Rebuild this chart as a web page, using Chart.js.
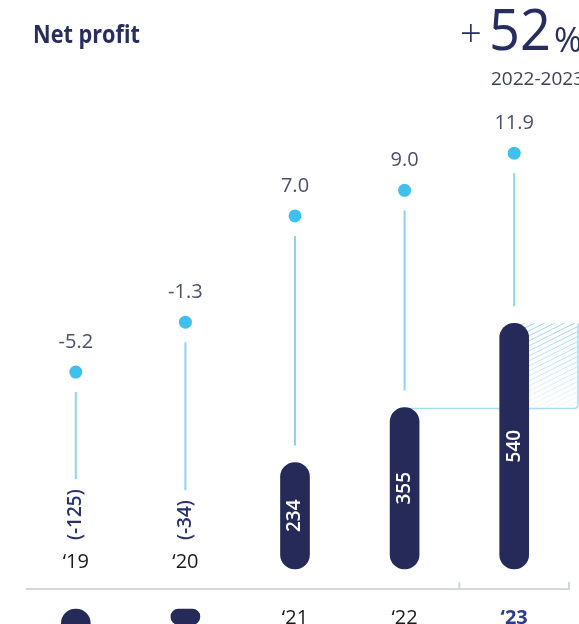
<!DOCTYPE html>
<html>
<head>
<meta charset="utf-8">
<script src="https://cdn.jsdelivr.net/npm/chart.js@4.4.1/dist/chart.umd.min.js"></script>
<style>
  html, body { margin: 0; padding: 0; background: #fff; }
  #wrap { width: 579px; height: 624px; overflow: hidden; }
</style>
</head>
<body>
<div id="wrap"><canvas id="profitChart" width="579" height="624"></canvas></div>
<script>
// Chart data
const years = ['\u201819', '\u201820', '\u201821', '\u201822', '\u201823'];
const netProfit = [-125, -34, 234, 355, 540];
const margin = [-5.2, -1.3, 7.0, 9.0, 11.9];
const marginLabels = ['-5.2', '-1.3', '7.0', '9.0', '11.9'];
const profitLabels = ['(-125)', '(-34)', '234', '355', '540'];
const highlightIndex = 4;
const headline = { title: 'Net profit', change: '52', period: '2022-2023' };

const NAVY = '#252a58';
const DOT = '#3fc0ee';
const STEM = '#8ad4f2';
const GAP = 44; // gap between zero line and bar start, in profit units

const overlay = {
    id: 'overlay',
    beforeDatasetsDraw(chart) {
        const ctx = chart.ctx;
        const bars = chart.getDatasetMeta(0).data;
        const y0 = chart.scales.y.getPixelForValue(0);

        // hatched growth area between the last two bars
        const top = bars[4].y, bottom = bars[3].y;
        const left = bars[4].x, right = 578;
        ctx.save();
        ctx.beginPath();
        ctx.rect(left, top, right - left, bottom - top);
        ctx.clip();
        const grad = ctx.createLinearGradient(0, top, 0, bottom);
        grad.addColorStop(0, 'rgba(120, 200, 240, 0.75)');
        grad.addColorStop(1, 'rgba(120, 200, 240, 0.12)');
        ctx.strokeStyle = grad;
        ctx.lineWidth = 1;
        for (let k = -60; k < 200; k += 5) {
            ctx.beginPath();
            ctx.moveTo(left, top + k);
            ctx.lineTo(left + 120, top + k - 60);
            ctx.stroke();
        }
        ctx.restore();

        ctx.save();
        ctx.strokeStyle = '#a8dcf3';
        ctx.lineWidth = 1.5;
        ctx.beginPath();
        ctx.moveTo(bars[3].x, bottom + 1);
        ctx.lineTo(right - 4, bottom + 1);
        ctx.quadraticCurveTo(right, bottom + 1, right, bottom - 3);
        ctx.lineTo(right, top);
        ctx.stroke();
        ctx.restore();

        // zero line with bracket under the highlighted year
        ctx.save();
        ctx.strokeStyle = '#d3d6dd';
        ctx.lineWidth = 2;
        ctx.beginPath();
        ctx.moveTo(26, y0);
        ctx.lineTo(569, y0);
        const tx = (bars[3].x + bars[4].x) / 2;
        ctx.moveTo(tx, y0);
        ctx.lineTo(tx, y0 - 7);
        ctx.moveTo(569, y0 + 1);
        ctx.lineTo(569, y0 - 7);
        ctx.stroke();
        ctx.restore();
    },
    afterDatasetsDraw(chart) {
        const ctx = chart.ctx;
        const bars = chart.getDatasetMeta(0).data;
        const dots = chart.getDatasetMeta(1).data;
        const y0 = chart.scales.y.getPixelForValue(0);

        ctx.save();
        netProfit.forEach((v, i) => {
            const x = bars[i].x;
            const dotY = dots[i].y;
            let stemEnd;

            if (v >= 0) {
                stemEnd = bars[i].y - 17;
                // value inside bar
                ctx.save();
                ctx.translate(x, (bars[i].y + bars[i].base) / 2);
                ctx.rotate(-Math.PI / 2);
                ctx.font = '600 19px "Open Sans"';
                ctx.fillStyle = '#ffffff';
                ctx.textAlign = 'center';
                ctx.textBaseline = 'middle';
                ctx.fillText(profitLabels[i], 0, 0);
                ctx.restore();
            } else {
                const start = y0 - 49;
                ctx.font = '600 19px "Open Sans"';
                const w = ctx.measureText(profitLabels[i]).width;
                stemEnd = start - w - 10;
                ctx.save();
                ctx.translate(x, start);
                ctx.rotate(-Math.PI / 2);
                ctx.fillStyle = '#28306e';
                ctx.textAlign = 'left';
                ctx.textBaseline = 'middle';
                ctx.fillText(profitLabels[i], 0, 0);
                ctx.restore();
            }

            // stem from margin dot down to bar
            ctx.strokeStyle = STEM;
            ctx.lineWidth = 2;
            ctx.beginPath();
            ctx.moveTo(x, dotY + 20);
            ctx.lineTo(x, stemEnd);
            ctx.stroke();

            // margin label
            ctx.font = '20px "Open Sans"';
            ctx.fillStyle = '#4b5068';
            ctx.textAlign = 'center';
            ctx.textBaseline = 'middle';
            ctx.fillText(marginLabels[i], x, dotY - 30);

            // year label
            ctx.font = i === highlightIndex ? 'bold 20px "Open Sans"' : '20px "Open Sans"';
            ctx.fillStyle = i === highlightIndex ? '#2d3b8e' : '#1a1a1a';
            ctx.fillText(years[i], x, v >= 0 ? y0 + 29 : y0 - 27);
        });
        ctx.restore();
    },
    afterDraw(chart) {
        const ctx = chart.ctx;
        ctx.save();
        ctx.fillStyle = '#272e5f';
        ctx.textAlign = 'left';
        ctx.textBaseline = 'alphabetic';
        ctx.font = 'bold 25px "Open Sans"';
        ctx.fillText(headline.title, 33, 43, 107);
        ctx.font = '300 38px "Open Sans"';
        ctx.fillText('+', 460, 47);
        ctx.font = '56px "Open Sans"';
        ctx.fillText(headline.change, 489, 50, 62);
        ctx.font = '34px "Open Sans"';
        ctx.fillText('%', 554, 52);
        ctx.font = '19px "Open Sans"';
        ctx.fillStyle = '#3b4056';
        ctx.fillText(headline.period, 491, 85);
        ctx.restore();
    }
};

new Chart(document.getElementById('profitChart'), {
    type: 'bar',
    data: {
        labels: years,
        datasets: [{
            label: 'Net profit',
            data: netProfit.map(v => v >= 0 ? [GAP, GAP + v] : [-GAP, -GAP + v]),
            backgroundColor: NAVY,
            borderRadius: 15,
            borderSkipped: false,
            barThickness: 29,
            yAxisID: 'y'
        }, {
            type: 'line',
            label: 'Margin',
            data: margin,
            showLine: false,
            pointRadius: 6.5,
            pointBackgroundColor: DOT,
            pointBorderWidth: 0,
            yAxisID: 'ym'
        }]
    },
    options: {
        responsive: false,
        animation: false,
        layout: { autoPadding: false, padding: { left: 21, right: 10, top: 0, bottom: 0 } },
        scales: {
            x: { display: false, offset: true },
            y: { display: false, min: -76.9, max: 1294.5 },
            ym: { display: false, min: -24.88, max: 23.87 }
        },
        plugins: {
            legend: { display: false },
            tooltip: { enabled: false }
        }
    },
    plugins: [overlay]
});
</script>
</body>
</html>
